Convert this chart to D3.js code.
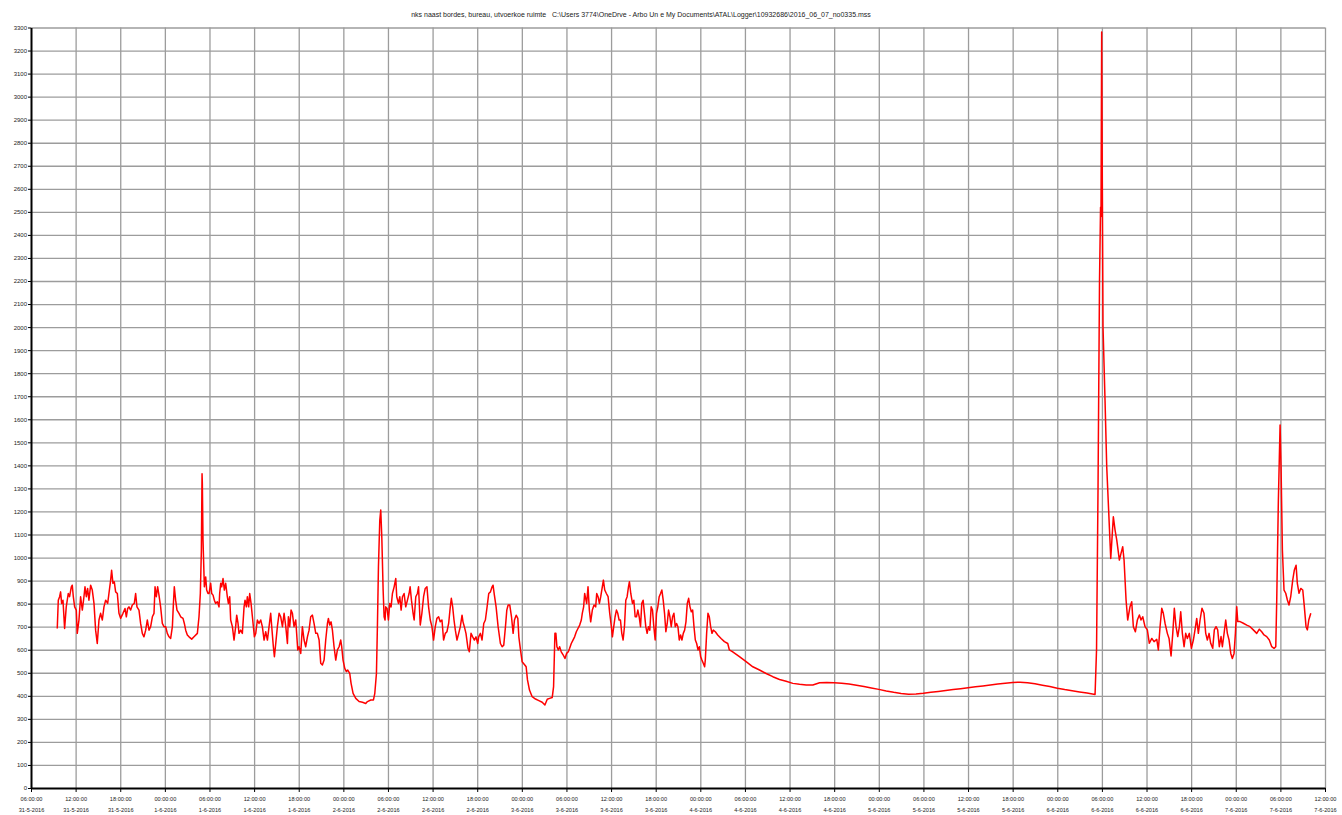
<!DOCTYPE html>
<html>
<head>
<meta charset="utf-8">
<script src="https://cdn.jsdelivr.net/npm/d3@7"></script>
<style>
  body{
    margin: 0;
    background: #fff;
    font-family: "Liberation Sans", Arial, sans-serif;
  }
  .grid line{
    stroke: #9c9c9c;
    stroke-width: 1.3px;
  }
  .axis path{
    stroke: #000;
    stroke-width: 2px;
  }
  .axis line{
    stroke: #000;
    stroke-width: 1px;
  }
  .axis text{
    fill: #222;
  }
  .series{
    fill: none;
    stroke: #ff0000;
    stroke-width: 1.5px;
    stroke-linejoin: round;
  }
</style>
</head>
<body>
<svg id="chart" width="1342" height="815"></svg>
<script>
var titleText = "nks naast bordes, bureau, utvoerkoe ruimte\u00a0\u00a0\u00a0C:\\Users 3774\\OneDrve - Arbo Un e My Documents\\ATAL\\Logger\\10932686\\2016_06_07_no0335.mss";

// logger start of the time axis and its length in hours
var startTime = new Date(2016, 4, 31, 6, 0, 0);
var spanHours = 174;
var tickStepHours = 6;
var yMax = 3300;
var yStep = 100;

// hours since 31-5-2016 06:00
var hours = [
  3.53,3.67,3.85,3.98,4.12,4.30,4.52,4.74,5.01,5.19,
  5.42,5.55,5.69,5.87,6.09,6.22,6.45,6.67,6.90,7.12,
  7.26,7.44,7.61,7.79,8.02,8.24,8.47,8.69,8.91,9.14,
  9.36,9.59,9.81,10.04,10.31,10.48,10.71,10.84,11.02,11.20,
  11.38,11.61,11.83,12.05,12.37,12.64,12.82,13.00,13.17,13.40,
  13.62,13.89,14.07,14.25,14.52,14.74,14.97,15.19,15.42,15.64,
  15.87,16.09,16.32,16.54,16.68,16.85,17.03,17.21,17.43,17.66,
  17.88,18.11,18.33,18.56,18.78,19.01,19.15,19.27,19.45,19.63,
  19.90,20.13,20.44,20.62,20.80,21.02,21.25,21.61,21.92,22.37,
  22.59,22.77,22.91,23.00,23.04,23.13,23.31,23.49,23.62,23.80,
  23.94,24.16,24.30,24.48,24.65,24.83,25.06,25.28,25.37,25.51,
  25.64,25.82,26.00,26.18,26.40,26.54,26.72,26.85,27.08,27.30,
  27.52,27.66,27.84,27.97,28.20,28.42,28.65,28.78,28.96,29.09,
  29.27,29.41,29.59,29.77,30.04,30.22,30.44,30.66,30.89,31.11,
  31.34,31.56,31.79,32.01,32.23,32.37,32.59,32.73,32.91,33.13,
  33.36,33.58,33.81,34.03,34.26,34.48,34.61,34.79,34.97,35.15,
  35.37,35.60,35.87,36.04,36.27,36.49,36.72,36.94,37.17,37.39,
  37.61,37.84,38.06,38.29,38.51,38.74,38.96,39.18,39.41,39.63,
  39.86,39.99,40.17,40.35,40.53,40.75,40.98,41.20,41.43,41.65,
  41.78,41.96,42.19,42.41,42.59,42.86,43.04,43.31,43.67,44.12,
  44.57,45.01,45.24,45.69,46.05,46.23,46.45,46.58,46.72,46.90,
  47.03,47.17,47.35,47.48,47.61,47.70,47.88,48.06,48.24,48.42,
  48.60,48.83,49.05,49.18,49.41,49.59,49.77,49.95,50.17,50.39,
  50.62,50.84,50.98,51.16,51.38,51.52,51.74,51.96,
  52.11,52.34,52.56,52.79,53.01,53.24,53.46,53.69,53.91,54.13,
  54.36,54.58,54.81,55.03,55.26,55.48,55.71,55.93,56.16,56.38,
  56.52,56.70,56.88,57.06,57.28,57.51,57.73,57.96,58.09,58.27,
  58.49,58.76,58.94,59.17,59.39,59.62,59.84,60.07,60.20,60.43,
  60.65,60.88,61.10,61.33,61.55,61.78,62.00,62.13,62.31,62.54,
  62.81,63.12,63.35,63.57,63.80,63.98,64.16,64.38,64.61,64.83,
  65.01,65.24,65.46,65.60,65.82,66.04,66.40,66.58,66.76,67.03,
  67.39,67.84,68.29,68.74,69.10,69.42,69.73,70.09,70.27,70.45,
  70.58,70.72,70.90,71.08,71.30,71.57,71.80,72.02,72.25,72.43,
  72.65,72.88,73.10,73.33,73.55,73.78,74.00,74.13,74.31,74.45,
  74.58,74.72,74.90,75.08,75.26,75.48,75.71,75.93,76.07,76.25,
  76.43,76.61,76.79,76.97,77.15,77.37,77.60,77.82,78.04,78.18,
  78.36,78.54,78.72,78.90,79.08,79.26,79.44,79.62,79.80,79.98,
  80.16,80.34,80.47,80.65,80.88,81.06,81.24,81.42,81.60,81.78,
  81.96,82.13,82.31,82.49,82.67,82.85,83.03,83.21,83.39,83.57,
  83.75,83.93,84.11,84.29,84.47,84.65,84.83,85.01,85.19,85.37,
  85.55,85.73,85.91,86.09,86.27,86.45,86.63,86.81,86.99,87.17,
  87.35,87.53,87.71,87.89,88.07,88.25,88.43,88.61,88.79,88.97,
  89.15,89.33,89.51,89.69,89.87,90.04,90.22,90.40,90.58,90.67,
  90.85,91.03,91.21,91.39,91.57,91.75,92.02,92.34,92.79,93.24,
  93.69,93.91,94.36,95.26,96.16,97.06,97.96,98.85,99.75,100.65,
  101.54,102.44,103.34,104.24,105.13,106.04,
  107,108,109,110,111,112,113,114,115,116,
  117,118,119,120,121,122,123,124,125,126,
  127,128,129,130,131,132,133,134,135,136,
  137,138,139,140,141,142,143.08,
  143.28,143.48,143.68,143.82,143.88,143.97,144.06,144.15,144.42,144.65,
  145.19,145.54,145.77,146.00,146.35,146.57,146.80,146.98,147.25,147.47,
  147.78,148.01,148.23,148.50,148.77,149.04,149.26,149.49,149.80,150.11,
  150.38,150.71,151.01,151.38,151.59,151.82,152.05,152.26,152.49,152.80,
  153.03,153.30,153.53,153.74,153.97,154.20,154.42,154.60,154.82,155.05,
  155.27,155.49,155.76,156.03,156.30,156.52,156.75,156.97,157.20,157.46,
  157.73,157.96,158.18,158.41,158.63,158.90,159.12,159.35,159.57,159.79,
  160.02,160.20,160.43,160.65,160.87,161.10,161.33,161.54,161.77,161.95,
  162.13,162.27,162.58,163.02,163.48,163.92,164.36,164.82,165.17,165.49,
  165.80,166.16,166.51,166.84,167.15,167.38,167.51,167.73,167.96,168.09,
  168.27,168.49,168.72,168.94,169.16,169.39,169.66,169.88,170.11,170.28,
  170.51,170.74,171.01,171.22,171.45,171.63,171.82,172.09
];

var values = [
  692,815,830,851,801,815,692,786,844,830,
  873,880,830,786,772,671,729,830,772,830,
  873,830,866,815,880,859,801,685,627,729,
  758,729,786,815,801,844,902,945,888,895,
  851,844,758,736,758,779,743,779,786,772,
  794,801,844,786,772,714,671,656,685,729,
  685,700,743,758,873,830,873,837,786,714,
  700,700,671,656,649,700,801,873,815,772,
  758,743,736,714,685,664,656,646,656,671,
  743,844,1032,1364,1321,1075,873,916,859,844,
  844,888,844,837,815,801,808,786,844,888,
  873,909,859,888,830,801,830,729,700,642,
  700,750,714,671,685,671,786,815,786,830,
  786,844,801,743,656,671,729,714,729,700,
  642,678,642,700,758,700,613,570,627,700,
  758,743,700,758,700,627,743,700,772,758,
  700,729,599,613,584,700,642,613,656,685,
  743,750,714,671,671,642,541,534,555,642,
  714,736,707,721,685,613,555,599,613,642,
  613,555,519,505,512,497,454,411,389,375,
  372,367,375,382,382,411,497,700,960,1162,
  1206,1090,859,743,729,786,779,729,801,786,
  844,873,909,830,801,830,772,830,844,786,
  815,844,873,815,758,729,830,844,
  873,707,758,830,866,873,786,729,700,642,
  700,736,743,721,729,642,671,678,714,786,
  823,786,729,685,642,671,700,750,721,700,
  671,606,591,671,656,642,656,627,656,671,
  642,714,729,786,844,851,873,880,837,786,
  700,627,613,620,700,772,794,794,743,671,
  729,750,736,656,599,548,534,526,469,425,
  396,386,379,372,360,385,389,393,440,671,
  671,613,599,613,591,577,562,584,591,606,
  627,642,656,678,692,707,729,758,786,844,
  823,801,873,772,721,772,794,786,844,830,
  801,830,866,902,859,844,830,758,700,656,
  700,743,772,758,729,729,671,642,700,815,
  830,873,895,844,801,815,743,743,772,743,
  700,801,815,758,700,671,700,685,786,772,
  700,642,758,786,830,844,859,815,758,678,
  714,772,743,700,743,758,700,714,700,642,
  664,642,671,685,721,801,823,786,765,772,
  700,642,627,599,613,570,555,541,526,555,
  671,758,743,700,671,685,678,664,649,635,
  627,599,591,570,548,526,512,497,483,471,
  463,454,450,447,447,457,
  458,457,455,451,446,440,434,428,421,415,
  410,407,408,411,415,419,423,427,431,435,
  439,443,447,451,455,458,459,457,452,446,
  440,433,427,422,417,412,406,
  600,1300,2200,2520,2480,3280,2600,2000,1683,1394,
  996,1177,1119,1076,989,1018,1047,989,816,729,
  787,808,700,678,729,751,729,743,700,686,
  628,649,635,645,599,700,780,758,715,671,
  649,573,671,780,700,657,700,765,671,613,
  671,649,671,606,642,686,736,671,729,780,
  758,671,642,671,628,606,686,700,686,613,
  657,613,671,729,671,642,584,562,584,671,
  787,722,722,715,707,700,686,671,689,678,
  664,657,642,613,606,613,816,1249,1575,1394,
  1033,859,845,816,794,830,902,946,967,888,
  845,866,859,787,700,686,729,758
];

var svg = d3.select("#chart");

var plotLeft = 31, plotRight = 1325, plotTop = 27.5, plotBottom = 788;

var x = d3.scaleTime()
  .domain([startTime, d3.timeHour.offset(startTime, spanHours)])
  .range([plotLeft, plotRight]);

var y = d3.scaleLinear()
  .domain([0, yMax])
  .range([plotBottom, plotTop]);

var xTicks = d3.range(0, spanHours + 1, tickStepHours).map(function(h){
  return d3.timeHour.offset(startTime, h);
});
var yTicks = d3.range(0, yMax + 1, yStep);

// grid
svg.append("g")
  .attr("class", "grid")
  .attr("transform", "translate(" + plotLeft + ",0)")
  .call(d3.axisLeft(y).tickValues(yTicks.slice(1)).tickSize(-(plotRight - plotLeft)).tickFormat(""))
  .call(function(g){ g.select(".domain").remove(); });

svg.append("g")
  .attr("class", "grid")
  .attr("transform", "translate(0," + plotBottom + ")")
  .call(d3.axisBottom(x).tickValues(xTicks.slice(1)).tickSize(-(plotBottom - plotTop)).tickFormat(""))
  .call(function(g){ g.select(".domain").remove(); });

// data line
var points = hours.map(function(h, i){
  return { t: new Date(startTime.getTime() + h * 3600000), v: values[i] };
});

var line = d3.line()
  .x(function(d){ return x(d.t); })
  .y(function(d){ return y(d.v); });

svg.append("path")
  .datum(points)
  .attr("class", "series")
  .attr("d", line);

// axes
var yAxis = svg.append("g")
  .attr("class", "axis")
  .attr("transform", "translate(" + plotLeft + ",0)")
  .call(d3.axisLeft(y).tickValues(yTicks).tickSize(3).tickSizeOuter(0).tickPadding(1).tickFormat(d3.format("d")));
yAxis.selectAll("text").style("font-size", "6px");

var fmtTime = d3.timeFormat("%H:%M:%S");
var fmtDate = d3.timeFormat("%-d-%-m-%Y");

var xAxis = svg.append("g")
  .attr("class", "axis")
  .attr("transform", "translate(0," + plotBottom + ")")
  .call(d3.axisBottom(x).tickValues(xTicks).tickSize(4).tickSizeOuter(0).tickFormat(""));

xAxis.selectAll(".tick").each(function(d){
  var t = d3.select(this).select("text")
    .style("font-size", "5.6px")
    .attr("y", 0)
    .attr("dy", null);
  t.append("tspan").attr("x", 0).attr("y", 13).text(fmtTime(d));
  t.append("tspan").attr("x", 0).attr("y", 24).text(fmtDate(d));
});

// title
svg.append("text")
  .attr("x", 641)
  .attr("y", 17)
  .attr("text-anchor", "middle")
  .style("font-size", "7px")
  .style("fill", "#222")
  .style("white-space", "pre")
  .text(titleText);
</script>
</body>
</html>
